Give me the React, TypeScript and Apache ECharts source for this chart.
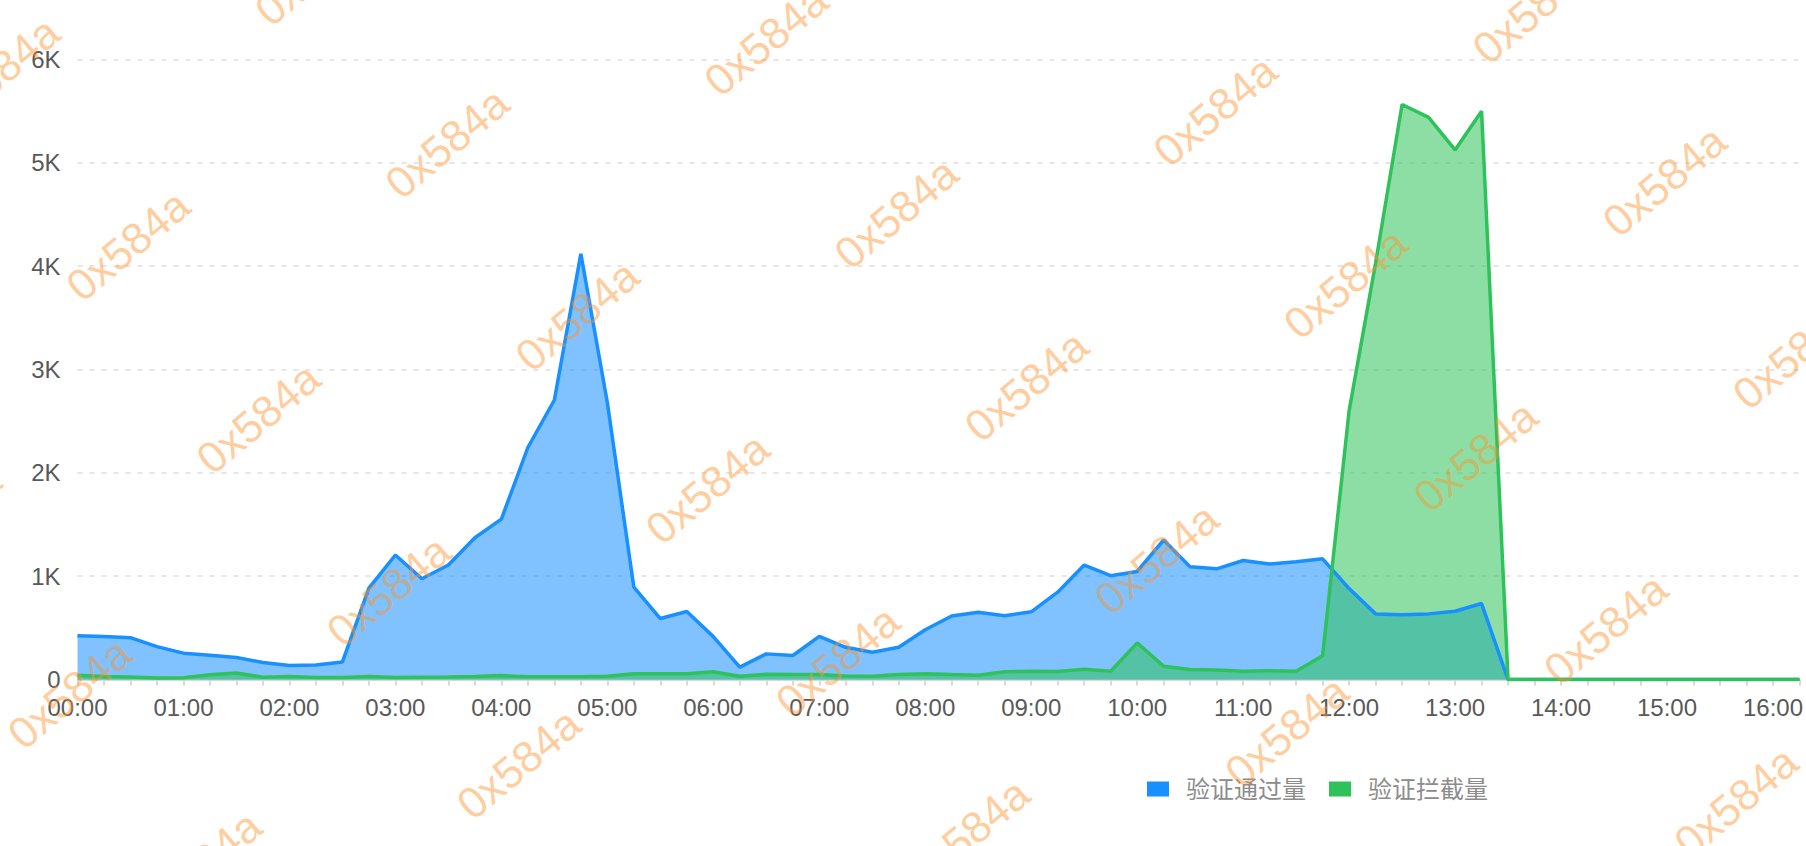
import React, { useEffect, useRef } from "react";
import * as echarts from "echarts";

const FONT = "'Liberation Sans', 'Noto Sans CJK SC', sans-serif";

const categories = [
  "00:00", "00:15", "00:30", "00:45", "01:00", "01:15", "01:30", "01:45",
  "02:00", "02:15", "02:30", "02:45", "03:00", "03:15", "03:30", "03:45",
  "04:00", "04:15", "04:30", "04:45", "05:00", "05:15", "05:30", "05:45",
  "06:00", "06:15", "06:30", "06:45", "07:00", "07:15", "07:30", "07:45",
  "08:00", "08:15", "08:30", "08:45", "09:00", "09:15", "09:30", "09:45",
  "10:00", "10:15", "10:30", "10:45", "11:00", "11:15", "11:30", "11:45",
  "12:00", "12:15", "12:30", "12:45", "13:00", "13:15", "13:30", "13:45",
  "14:00", "14:15", "14:30", "14:45", "15:00", "15:15", "15:30", "15:45",
  "16:00", "16:15",
];

const seriesNames = ["验证通过量", "验证拦截量"];

const passed = [
  424, 416, 405, 318, 255, 235, 212, 165,
  135, 140, 170, 885, 1205, 975, 1108, 1372,
  1552, 2245, 2705, 4120, 2680, 893, 590, 658,
  415, 120, 248, 232, 418, 312, 264, 312,
  482, 615, 650, 617, 655, 845, 1108, 1005,
  1046, 1350, 1090, 1071, 1152, 1117, 1140, 1168,
  880, 635, 627, 635, 661, 735, 0, 0,
  0, 0, 0, 0, 0, 0, 0, 0,
  0, 0,
];

const blocked = [
  42, 28, 24, 14, 16, 45, 62, 22,
  30, 20, 20, 28, 20, 22, 24, 28,
  38, 26, 26, 26, 32, 55, 55, 55,
  75, 32, 50, 48, 48, 35, 32, 48,
  55, 48, 42, 74, 80, 77, 100, 80,
  354, 128, 96, 93, 80, 84, 80, 230,
  2600, 4030, 5565, 5440, 5125, 5500, 0, 0,
  0, 0, 0, 0, 0, 0, 0, 0,
  0, 0,
];

const yTickLabels = ["0", "1K", "2K", "3K", "4K", "5K", "6K"];

const colors = ["#1890FF", "#2FC25B"];

const WATERMARK = "0x584a";

function buildWatermarks() {
  const out: any[] = [];
  for (let i = -5; i <= 7; i++) {
    for (let j = -5; j <= 8; j++) {
      const x = 896 + 130.2 * i + 319 * j;
      const y = 213 + 172.8 * i - 102.5 * j;
      if (x < -130 || x > 1940 || y < -110 || y > 960) continue;
      out.push({
        type: "text",
        x,
        y,
        rotation: (40 * Math.PI) / 180,
        z: 100,
        silent: true,
        style: {
          text: WATERMARK,
          fontSize: 44,
          fontFamily: FONT,
          fill: "rgba(255,145,40,0.45)",
          align: "center",
          verticalAlign: "middle",
        },
      });
    }
  }
  return out;
}

export default function App() {
  const ref = useRef<HTMLDivElement>(null);

  useEffect(() => {
    if (!ref.current) return;
    const chart = echarts.init(ref.current, undefined, { renderer: "svg" });
    chart.setOption({
      animation: false,
      backgroundColor: "#ffffff",
      textStyle: { fontFamily: FONT },
      color: colors,
      grid: { left: 77.5, right: 2.5, top: 59.5, bottom: 166.5, containLabel: false },
      legend: {
        data: seriesNames,
        left: 1147,
        top: 777,
        padding: 0,
        icon: "rect",
        itemWidth: 22,
        itemHeight: 15,
        itemGap: 23,
        textStyle: { fontSize: 24, color: "#8c8c8c", fontFamily: FONT, padding: [0, 0, 0, 12] },
      },
      xAxis: {
        type: "category",
        boundaryGap: false,
        data: categories,
        axisLine: { lineStyle: { color: "#d9d9d9", width: 2 } },
        axisTick: { interval: 0, length: 6, lineStyle: { color: "#d9d9d9", width: 2 } },
        axisLabel: { interval: 3, fontSize: 24, color: "#595959", margin: 16, fontFamily: FONT },
        splitLine: { show: false },
      },
      yAxis: {
        type: "value",
        min: 0,
        max: 6000,
        interval: 1000,
        axisLine: { show: false },
        axisTick: { show: false },
        axisLabel: {
          fontSize: 24,
          color: "#595959",
          margin: 17,
          fontFamily: FONT,
          formatter: (v: number) => yTickLabels[Math.round(v / 1000)] ?? String(v),
        },
        splitLine: { lineStyle: { type: [5, 7], color: "#e6e6e6", width: 2 } },
      },
      series: [
        {
          name: seriesNames[0],
          type: "line",
          data: passed,
          symbol: "none",
          showSymbol: false,
          lineStyle: { width: 3.5, color: colors[0] },
          itemStyle: { color: colors[0] },
          areaStyle: { color: colors[0], opacity: 0.55 },
        },
        {
          name: seriesNames[1],
          type: "line",
          data: blocked,
          symbol: "none",
          showSymbol: false,
          lineStyle: { width: 3.5, color: colors[1] },
          itemStyle: { color: colors[1] },
          areaStyle: { color: colors[1], opacity: 0.55 },
        },
      ],
      graphic: buildWatermarks(),
    });
    return () => chart.dispose();
  }, []);

  return (
    <div
      ref={ref}
      style={{ position: "absolute", left: 0, top: 0, width: 1806, height: 846, background: "#fff" }}
    />
  );
}
